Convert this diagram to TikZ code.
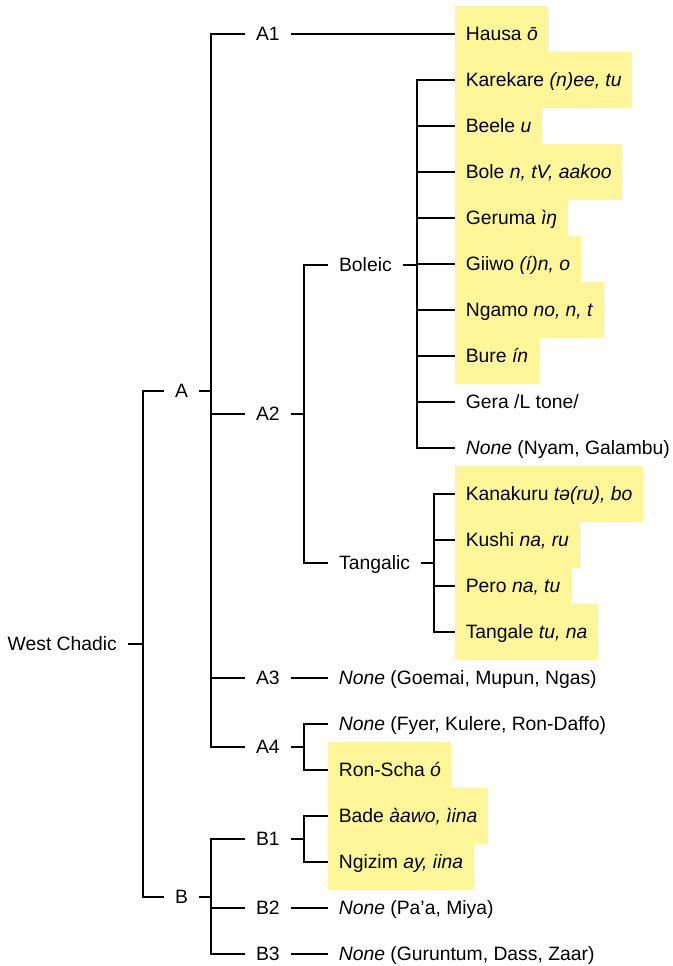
\documentclass[tikz,border=0pt]{standalone}
\usepackage{fontspec}
\setmainfont{Liberation Sans}
\definecolor{hl}{RGB}{255,246,153}
\begin{document}
\begin{tikzpicture}[x=0.75pt,y=-0.75pt,
  conn/.style={line width=1.5pt, black},
  lab/.style={anchor=west, inner xsep=8.1pt, inner ysep=0pt, text height=12pt, text depth=1.6pt, font=\fontsize{14.5}{17}\selectfont},
  leaf/.style={anchor=west, inner xsep=7.9pt, inner ysep=0pt, text height=12pt, text depth=1.6pt, minimum height=42pt, font=\fontsize{14.5}{17}\selectfont},
  hleaf/.style={leaf, fill=hl}]
\useasboundingbox (0,0) rectangle (673,966);

% internal labels
\node[lab, anchor=east] (wc) at (128,643.5) {West Chadic};
\node[lab] (a) at (164,390.5) {A};
\node[lab] (b) at (164,896.5) {B};
\node[lab] (a1) at (245,34) {A1};
\node[lab] (a2) at (245,413.5) {A2};
\node[lab] (a3) at (245,678) {A3};
\node[lab] (a4) at (245,747) {A4};
\node[lab] (b1) at (245,839) {B1};
\node[lab] (b2) at (245,908) {B2};
\node[lab] (b3) at (245,954) {B3};
\node[lab] (bol) at (328,265) {Boleic};
\node[lab] (tan) at (328,563) {Tangalic};

% leaves
\node[hleaf] (hausa) at (455,34) {Hausa \textit{ō}};
\node[hleaf] (kare) at (455,80) {Karekare \textit{(n)ee, tu}};
\node[hleaf] (beele) at (455,126) {Beele \textit{u}};
\node[hleaf] (bole) at (455,172) {Bole \textit{n, tV, aakoo}};
\node[hleaf] (geru) at (455,218) {Geruma \textit{ìŋ}};
\node[hleaf] (giiwo) at (455,264) {Giiwo \textit{(í)n, o}};
\node[hleaf] (ngamo) at (455,310) {Ngamo \textit{no, n, t}};
\node[hleaf] (bure) at (455,356) {Bure \textit{ín}};
\node[leaf] (gera) at (455,402) {Gera /L tone/};
\node[leaf] (nyam) at (455,448) {\textit{None} (Nyam, Galambu)};
\node[hleaf] (kana) at (455,494) {Kanakuru \textit{tə(ru), bo}};
\node[hleaf] (kushi) at (455,540) {Kushi \textit{na, ru}};
\node[hleaf] (pero) at (455,586) {Pero \textit{na, tu}};
\node[hleaf] (tang) at (455,632) {Tangale \textit{tu, na}};
\node[leaf] (goem) at (328,678) {\textit{None} (Goemai, Mupun, Ngas)};
\node[leaf] (fyer) at (328,724) {\textit{None} (Fyer, Kulere, Ron-Daffo)};
\node[hleaf] (ron) at (328,770) {Ron-Scha \textit{ó}};
\node[hleaf] (bade) at (328,816) {Bade \textit{àawo, ìina}};
\node[hleaf] (ngiz) at (328,862) {Ngizim \textit{ay, iina}};
\node[leaf] (paa) at (328,908) {\textit{None} (Pa’a, Miya)};
\node[leaf] (guru) at (328,954) {\textit{None} (Guruntum, Dass, Zaar)};

% junction x positions
\coordinate (jWC) at (143,0);
\coordinate (jA) at (211,0);
\coordinate (jB) at (211,0);
\coordinate (jA2) at (304,0);
\coordinate (jBol) at (417,0);
\coordinate (jTan) at (434,0);
\coordinate (jA4) at (304,0);
\coordinate (jB1) at (304,0);

% West Chadic
\draw[conn] (wc.east) -- (wc.east -| jWC);
\draw[conn] (a.west) -- (a.west -| jWC) -- (b.west -| jWC) -- (b.west);
% A
\draw[conn] (a.east) -- (a.east -| jA);
\draw[conn] (a1.west) -- (a1.west -| jA) -- (a4.west -| jA) -- (a4.west);
\draw[conn] (a2.west) -- (a2.west -| jA);
\draw[conn] (a3.west) -- (a3.west -| jA);
% B
\draw[conn] (b.east) -- (b.east -| jB);
\draw[conn] (b1.west) -- (b1.west -| jB) -- (b3.west -| jB) -- (b3.west);
\draw[conn] (b2.west) -- (b2.west -| jB);
% single children
\draw[conn] (a1.east) -- (hausa.west);
\draw[conn] (a3.east) -- (goem.west);
\draw[conn] (b2.east) -- (paa.west);
\draw[conn] (b3.east) -- (guru.west);
% A2
\draw[conn] (a2.east) -- (a2.east -| jA2);
\draw[conn] (bol.west) -- (bol.west -| jA2) -- (tan.west -| jA2) -- (tan.west);
% Boleic
\draw[conn] (bol.east) -- (bol.east -| jBol);
\draw[conn] (kare.west) -- (kare.west -| jBol) -- (nyam.west -| jBol) -- (nyam.west);
\foreach \n in {beele,bole,geru,giiwo,ngamo,bure,gera}
  \draw[conn] (\n.west) -- (\n.west -| jBol);
% Tangalic
\draw[conn] (tan.east) -- (tan.east -| jTan);
\draw[conn] (kana.west) -- (kana.west -| jTan) -- (tang.west -| jTan) -- (tang.west);
\foreach \n in {kushi,pero}
  \draw[conn] (\n.west) -- (\n.west -| jTan);
% A4
\draw[conn] (a4.east) -- (a4.east -| jA4);
\draw[conn] (fyer.west) -- (fyer.west -| jA4) -- (ron.west -| jA4) -- (ron.west);
% B1
\draw[conn] (b1.east) -- (b1.east -| jB1);
\draw[conn] (bade.west) -- (bade.west -| jB1) -- (ngiz.west -| jB1) -- (ngiz.west);
\end{tikzpicture}
\end{document}
